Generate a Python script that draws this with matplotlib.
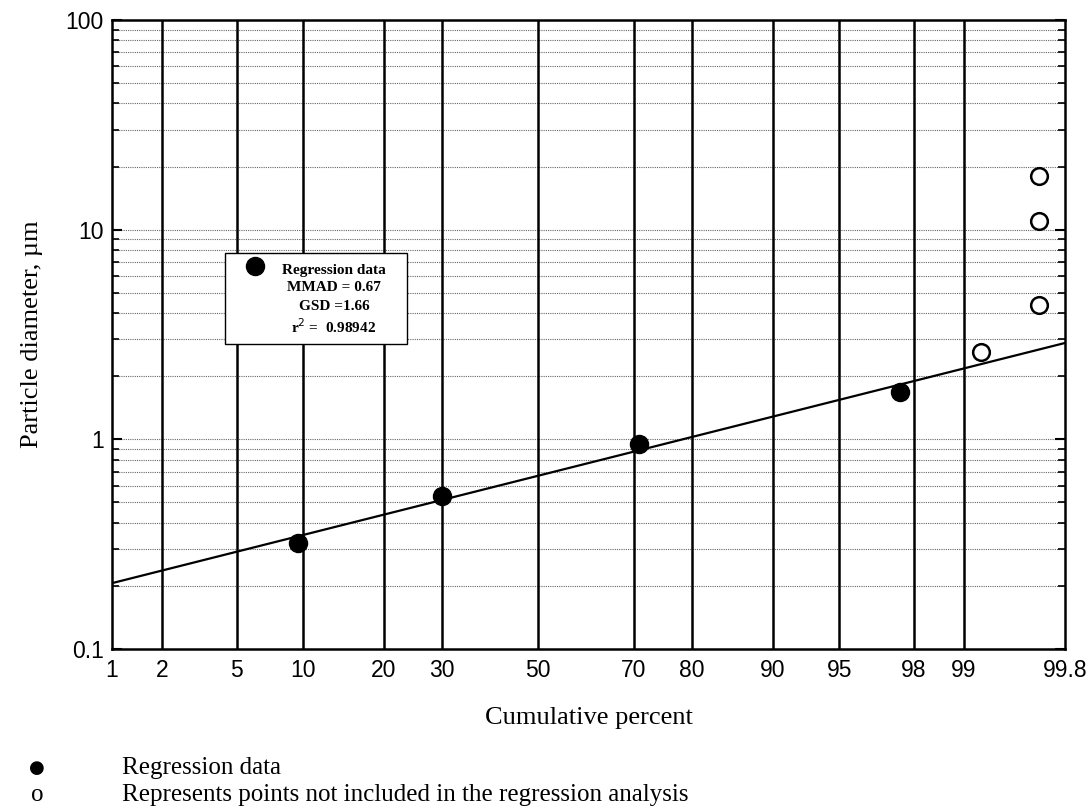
import math
import numpy as np
import matplotlib
matplotlib.use("Agg")
import matplotlib.pyplot as plt
from matplotlib.patches import Rectangle

# data
reg_pct = [9.5, 30, 70.9, 97.6]
reg_diam = [0.32, 0.535, 0.95, 1.69]
excl_pct = [99.22, 99.69, 99.69, 99.69]
excl_diam = [2.62, 4.35, 11.0, 18.1]
mmad = 0.67
gsd = 1.66
r2 = 0.98942
x_ticks = [1, 2, 5, 10, 20, 30, 50, 70, 80, 90, 95, 98, 99, 99.8]
y_ticks = [0.1, 1, 10, 100]

# probability (probit) scale helpers
_z = np.linspace(-8, 8, 40001)
_p = 0.5 * (1 + np.vectorize(math.erf)(_z / math.sqrt(2)))


def to_z(pct):
    p = np.clip(np.asarray(pct, dtype=float) / 100.0, 1e-12, 1 - 1e-12)
    return np.interp(p, _p, _z)


def to_pct(z):
    return 100.0 * np.interp(np.asarray(z, dtype=float), _z, _p)


serif = ["Liberation Serif", "DejaVu Serif"]
sans = ["Liberation Sans", "DejaVu Sans"]

fig = plt.figure(figsize=(10.91, 8.09), dpi=100)
ax = fig.add_axes([0.1027, 0.1978, 0.8735, 0.7775])
ax.set_xscale("function", functions=(to_z, to_pct))
ax.set_yscale("log")
ax.set_xlim(1, 99.8)
ax.set_ylim(0.1, 100)

# grid: solid verticals, dotted horizontals
for xv in x_ticks[1:-1]:
    ax.axvline(xv, color="black", lw=1.8, zorder=1)
for dec in [0.1, 1, 10]:
    for m in range(1, 10):
        yv = dec * m
        if 0.1 < yv < 100:
            ax.axhline(yv, color="#666666", lw=0.8, ls=(0, (1, 1)), zorder=0)

# regression line from MMAD and GSD
xl = np.linspace(1, 99.8, 200)
ax.plot(xl, mmad * gsd ** to_z(xl), color="black", lw=1.6, zorder=2)

ax.plot(reg_pct, reg_diam, "o", color="black", ms=13, zorder=3)
ax.plot(excl_pct, excl_diam, "o", mfc="white", mec="black", mew=1.8, ms=12, zorder=3)

ax.set_xticks(x_ticks)
ax.set_xticklabels([f"{v:g}" for v in x_ticks], fontfamily=sans, fontsize=16.5)
ax.set_yticks(y_ticks)
ax.set_yticklabels([f"{v:g}" for v in y_ticks], fontfamily=sans, fontsize=16.5)
ax.tick_params(axis="x", which="both", length=0, pad=7)
ax.tick_params(axis="y", which="major", direction="in", length=7, width=1.5,
               right=True, pad=6)
ax.tick_params(axis="y", which="minor", direction="in", length=5, width=1.2,
               right=True)
for s in ax.spines.values():
    s.set_linewidth(1.8)

ax.set_xlabel("Cumulative percent", fontfamily=serif, fontsize=19, labelpad=18)
ax.set_ylabel("Particle diameter, µm", fontfamily=serif, fontsize=19, labelpad=16)

# legend box
ax.add_patch(Rectangle((0.1185, 0.4849), 0.1906, 0.1447, transform=ax.transAxes,
                       facecolor="white", edgecolor="black", lw=1.0, zorder=5))
ax.plot([0.150], [0.609], "o", color="black", ms=13, transform=ax.transAxes, zorder=6)
lines = ["Regression data", f"MMAD = {mmad}", f"GSD ={gsd}", rf"r$^2$ =  {r2}"]
ys = [0.6025, 0.574, 0.5437, 0.512]
for t, yy in zip(lines, ys):
    ax.text(0.233, yy, t, transform=ax.transAxes, ha="center", va="center",
            fontfamily=serif, fontweight="bold", fontsize=11, zorder=6)

# notes below chart
fig.text(37 / 1091, 1 - 768 / 809, "●", fontsize=13, ha="center", va="center",
         fontfamily=["DejaVu Sans"])
fig.text(122 / 1091, 1 - 768 / 809, "Regression data", fontsize=18,
         ha="left", va="center", fontfamily=serif)
fig.text(37 / 1091, 1 - 795 / 809, "o", fontsize=18, ha="center", va="center",
         fontfamily=serif)
fig.text(122 / 1091, 1 - 795 / 809,
         "Represents points not included in the regression analysis",
         fontsize=18, ha="left", va="center", fontfamily=serif)

fig.savefig("out.png", dpi=100)
